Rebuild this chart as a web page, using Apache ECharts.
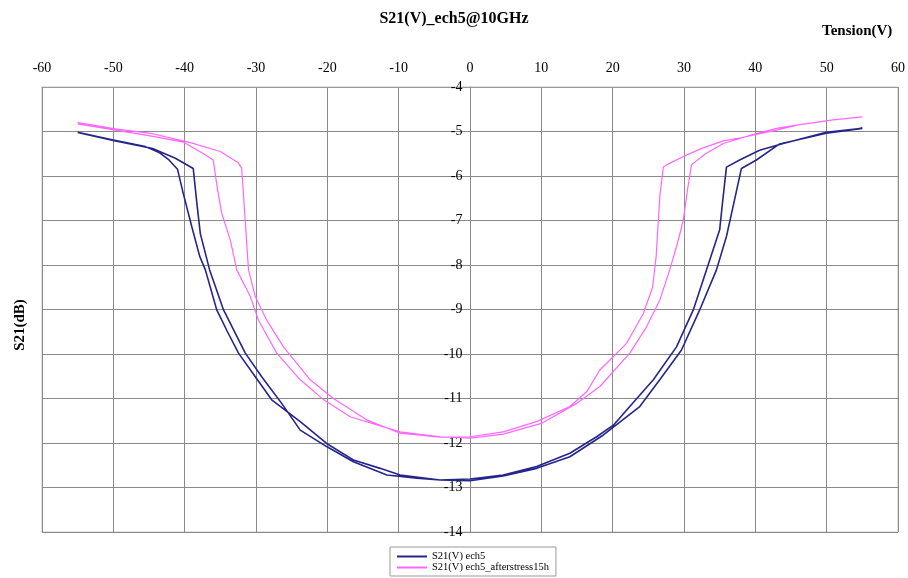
<!DOCTYPE html>
<html>
<head>
<meta charset="utf-8">
<script src="https://cdn.jsdelivr.net/npm/echarts@6/dist/echarts.min.js"></script>
<style>html,body{margin:0;padding:0;background:#fff;}#c{width:908px;height:578px;}</style>
</head>
<body>
<div id="c"></div>
<script>
// Tick labels / axis ranges
var xTicks = [-60, -50, -40, -30, -20, -10, 0, 10, 20, 30, 40, 50, 60];
var yTicks = [-14, -13, -12, -11, -10, -9, -8, -7, -6, -5, -4];
var seriesNames = ['S21(V) ech5', 'S21(V) ech5_afterstress15h'];

// ech5 : sweep -55 -> 55
var blueUp = [[-55,-5.02],[-50,-5.19],[-45.5,-5.34],[-43.5,-5.48],[-42.2,-5.64],[-41,-5.85],[-40.2,-6.39],[-39,-7.14],[-37.9,-7.8],[-37.1,-8.11],[-35.5,-9.01],[-34,-9.5],[-32.45,-9.98],[-30.1,-10.51],[-27.8,-11.03],[-23.8,-11.52],[-20.1,-12.01],[-16.35,-12.38],[-12.6,-12.57],[-9.8,-12.72],[-4.2,-12.83],[0,-12.85],[4.66,-12.74],[9.34,-12.57],[14,-12.31],[18.7,-11.82],[23.8,-11.18],[26.6,-10.58],[29.65,-9.91],[32.2,-9.01],[34.55,-8.11],[35.95,-7.36],[37,-6.6],[38.05,-5.83],[40.15,-5.64],[43.4,-5.28],[49.95,-5.04],[55,-4.93]];
// ech5 : sweep 55 -> -55
var blueDown = [[55,-4.93],[49.95,-5.02],[43.9,-5.27],[40.6,-5.42],[37.8,-5.64],[35.95,-5.8],[35.4,-6.6],[35,-7.21],[33.15,-8.11],[31.3,-9.01],[28.95,-9.84],[25.7,-10.58],[22.4,-11.18],[20.1,-11.6],[17.75,-11.86],[14,-12.23],[9.34,-12.53],[4.66,-12.72],[0,-12.81],[-4.2,-12.83],[-7.45,-12.79],[-11.65,-12.72],[-16.35,-12.42],[-20.1,-12.08],[-23.8,-11.71],[-26.4,-11.11],[-29.2,-10.51],[-31.5,-9.98],[-34.55,-9.01],[-36.5,-8.11],[-37.8,-7.3],[-38.3,-6.6],[-38.8,-5.83],[-41.3,-5.6],[-44.5,-5.38],[-49.7,-5.21],[-55,-5.02]];
// ech5_afterstress15h : sweep -55 -> 55
var pinkUp = [[-55,-4.83],[-49.7,-4.97],[-44.8,-5.1],[-40.15,-5.24],[-37.35,-5.5],[-36,-5.64],[-35.4,-6.3],[-34.8,-6.84],[-33.6,-7.44],[-32.7,-8.11],[-30.8,-8.71],[-29.65,-9.24],[-27.1,-9.98],[-23.8,-10.58],[-20.5,-11.03],[-16.8,-11.41],[-9.8,-11.75],[-4.2,-11.86],[0,-11.89],[4.66,-11.8],[10,-11.56],[14.95,-11.11],[18.2,-10.73],[22.4,-9.98],[24.75,-9.39],[26.6,-8.79],[28,-8.11],[29.1,-7.5],[29.9,-6.99],[30.5,-6.3],[31.05,-5.75],[33,-5.5],[35.5,-5.27],[39,-5.1],[42.95,-4.93],[46,-4.85],[50.9,-4.74],[55,-4.67]];
// ech5_afterstress15h : sweep 55 -> -55
var pinkDown = [[55,-4.67],[50.9,-4.74],[46,-4.85],[42.95,-4.97],[38,-5.14],[35.5,-5.21],[32.5,-5.38],[30.35,-5.53],[27.55,-5.75],[27.1,-5.8],[26.6,-6.47],[26.1,-7.8],[25.6,-8.5],[24.3,-9.09],[21.95,-9.76],[18.2,-10.36],[16.35,-10.85],[14,-11.18],[9.34,-11.52],[4.66,-11.75],[0,-11.86],[-4.2,-11.87],[-9.8,-11.78],[-14.5,-11.48],[-19.15,-11.0],[-22.4,-10.58],[-26.15,-9.84],[-28.5,-9.24],[-30.1,-8.71],[-31.05,-8.11],[-31.6,-6.8],[-32,-5.83],[-32.5,-5.7],[-35,-5.45],[-39.2,-5.25],[-44.8,-5.04],[-49.7,-4.94],[-55,-4.8]];

var serif = '"Liberation Serif","DejaVu Serif",serif';
var gridLeft = 42, gridRight = 9, chartW = 908;
var chart = echarts.init(document.getElementById('c'), null, {renderer: 'canvas'});
// y axis drawn at x = 0 (centre of the x range)
var plotW = chartW - gridLeft - gridRight;
var zeroOffset = -plotW * (0 - xTicks[0]) / (xTicks[xTicks.length - 1] - xTicks[0]);
chart.setOption({
  animation: false,
  backgroundColor: '#fff',
  title: {
    text: 'S21(V)_ech5@10GHz',
    left: 'center', top: 6,
    textStyle: {fontFamily: serif, fontSize: 16, fontWeight: 'bold', color: '#000'}
  },
  graphic: [
    {type: 'text', left: 822, top: 24, style: {text: 'Tension(V)', font: 'bold 15px ' + serif, fill: '#000'}},
    {type: 'text', x: 20, y: 325, rotation: Math.PI / 2, style: {text: 'S21(dB)', font: 'bold 15px ' + serif, fill: '#000', align: 'center', verticalAlign: 'middle'}}
  ],
  legend: {
    data: seriesNames,
    orient: 'vertical',
    left: 390, top: 547,
    itemGap: 0,
    icon: 'rect',
    itemWidth: 30, itemHeight: 2,
    padding: [4, 7, 3, 7],
    borderColor: '#999', borderWidth: 1,
    textStyle: {fontFamily: serif, fontSize: 10.5, color: '#000'}
  },
  grid: {left: gridLeft, right: gridRight, top: 87, bottom: 46, show: true, borderColor: '#c4c4c4', borderWidth: 1},
  xAxis: {
    type: 'value', position: 'top',
    min: xTicks[0], max: xTicks[xTicks.length - 1], interval: 10,
    axisLine: {onZero: false, lineStyle: {color: '#999'}},
    axisTick: {show: false},
    axisLabel: {margin: 12, fontFamily: serif, fontSize: 14, color: '#000'},
    splitLine: {show: true, lineStyle: {color: '#8a8a8a', width: 1}}
  },
  yAxis: {
    type: 'value', position: 'left', offset: zeroOffset,
    min: yTicks[0], max: yTicks[yTicks.length - 1], interval: 1,
    axisLine: {show: true, onZero: false, lineStyle: {color: '#8a8a8a'}},
    axisTick: {show: false},
    axisLabel: {margin: 8, fontFamily: serif, fontSize: 14, color: '#000'},
    splitLine: {show: true, lineStyle: {color: '#8a8a8a', width: 1}}
  },
  series: [
    {name: seriesNames[0], type: 'line', data: blueUp.concat(blueDown), showSymbol: false, symbol: 'none',
     lineStyle: {color: '#25258c', width: 1.6}, itemStyle: {color: '#25258c'}},
    {name: seriesNames[1], type: 'line', data: pinkUp.concat(pinkDown), showSymbol: false, symbol: 'none',
     lineStyle: {color: '#ff66ff', width: 1.2}, itemStyle: {color: '#ff66ff'}}
  ]
});
</script>
</body>
</html>
